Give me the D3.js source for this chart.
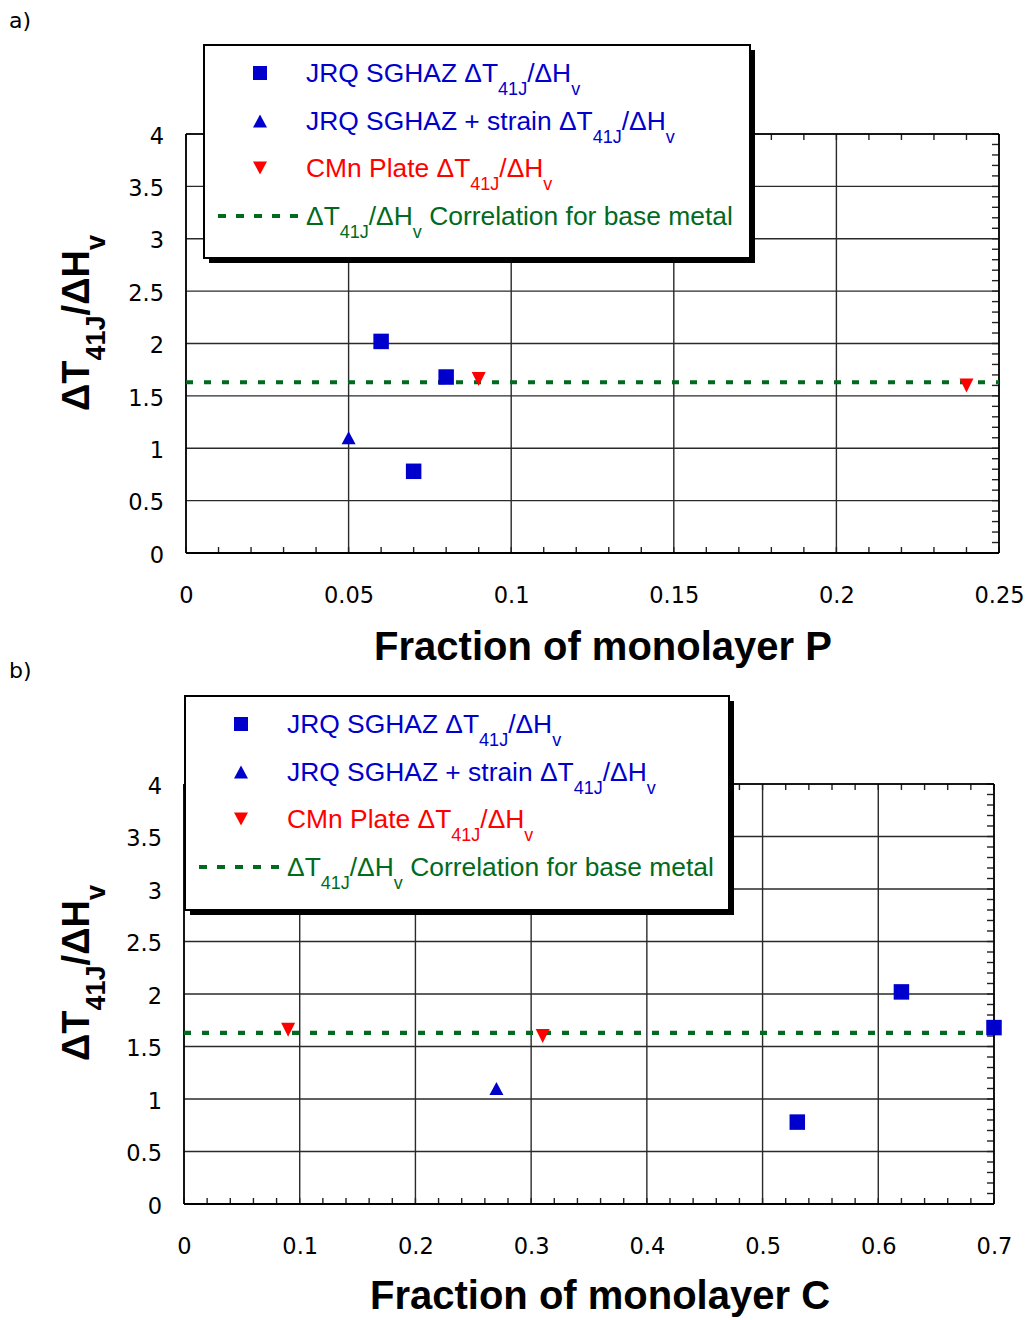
<!DOCTYPE html>
<html>
<head>
<meta charset="utf-8">
<script src="https://cdn.jsdelivr.net/npm/d3@7"></script>
<style>
  html, body { margin: 0; padding: 0; background: #fff; }
  svg { display: block; }
</style>
</head>
<body>
<svg id="fig" width="1028" height="1320"></svg>
<script>
// ΔT41J/ΔHv ratios for each material, plotted against P and C monolayer fractions
const sghazP = [0.06, 0.08, 0.07];
const sghazC = [0.62, 0.70, 0.53];
const sghazRatio = [2.02, 1.68, 0.78];

const strainP = [0.05];
const strainC = [0.27];
const strainRatio = [1.10];

const cmnP = [0.09, 0.24];
const cmnC = [0.09, 0.31];
const cmnRatio = [1.66, 1.60];

const baseMetalRatio = 1.63;

const yTicks = [0, 0.5, 1, 1.5, 2, 2.5, 3, 3.5, 4];
const xTicksP = [0, 0.05, 0.1, 0.15, 0.2, 0.25];
const xTicksC = [0, 0.1, 0.2, 0.3, 0.4, 0.5, 0.6, 0.7];

const BLUE = "#0000cc";
const RED = "#ff0000";
const GREEN = "#006a1e";
const TICK_FONT = "'DejaVu Sans', Verdana, sans-serif";
const TEXT_FONT = "'Liberation Sans', Arial, sans-serif";

const svg = d3.select("#fig");

function squarePath(s) {
  const h = s / 2;
  return `M${-h},${-h}H${h}V${h}H${-h}Z`;
}
function triUpPath(w, h) {
  return `M0,${-h / 2}L${w / 2},${h / 2}L${-w / 2},${h / 2}Z`;
}
function triDownPath(w, h) {
  return `M${-w / 2},${-h / 2}L${w / 2},${-h / 2}L0,${h / 2}Z`;
}

// text with ΔT41J/ΔHv subscripts, optional prefix and suffix
function ratioText(t, prefix, suffix, subSize, drop) {
  if (prefix) t.append("tspan").text(prefix);
  t.append("tspan").text("ΔT");
  t.append("tspan").attr("font-size", subSize).attr("dy", drop).text("41J");
  t.append("tspan").attr("dy", -drop).text("/ΔH");
  t.append("tspan").attr("font-size", subSize).attr("dy", drop).text("v");
  if (suffix) t.append("tspan").attr("dy", -drop).text(suffix);
  return t;
}

function drawPanel(cfg) {
  const g = svg.append("g");
  const x = d3.scaleLinear().domain(cfg.xDomain).range([cfg.left, cfg.right]);
  const y = d3.scaleLinear().domain([0, 4]).range([cfg.bottom, cfg.top]);

  // panel label
  g.append("text").attr("x", 9).attr("y", cfg.labelY)
    .attr("font-family", TICK_FONT).attr("font-size", 22).text(cfg.label);

  // horizontal grid
  g.append("g").selectAll("line").data(yTicks).join("line")
    .attr("x1", cfg.left).attr("x2", cfg.right)
    .attr("y1", d => y(d)).attr("y2", d => y(d))
    .attr("stroke", "#2a2a2a").attr("stroke-width", 1.4);

  // vertical grid
  g.append("g").selectAll("line").data(cfg.xTicks).join("line")
    .attr("x1", d => x(d)).attr("x2", d => x(d))
    .attr("y1", cfg.top).attr("y2", cfg.bottom)
    .attr("stroke", "#2a2a2a").attr("stroke-width", 1.4);

  // minor ticks: bottom (up) and top (down)
  const xMinor = d3.range(0, Math.round(cfg.xDomain[1] / cfg.xMinorStep) + 1)
    .map(i => i * cfg.xMinorStep);
  const minorG = g.append("g").attr("stroke", "#222").attr("stroke-width", 1.4);
  minorG.selectAll("line.b").data(xMinor).join("line").attr("class", "b")
    .attr("x1", d => x(d)).attr("x2", d => x(d))
    .attr("y1", cfg.bottom).attr("y2", cfg.bottom - 6);
  minorG.selectAll("line.t").data(xMinor).join("line").attr("class", "t")
    .attr("x1", d => x(d)).attr("x2", d => x(d))
    .attr("y1", cfg.top).attr("y2", cfg.top + 6);
  // right side minor ticks
  const yMinor = d3.range(0, 41).map(i => i * 0.1);
  minorG.selectAll("line.r").data(yMinor).join("line").attr("class", "r")
    .attr("x1", cfg.right).attr("x2", cfg.right - 7)
    .attr("y1", d => y(d)).attr("y2", d => y(d));

  // axis frame
  g.append("line").attr("x1", cfg.left).attr("x2", cfg.right)
    .attr("y1", cfg.bottom).attr("y2", cfg.bottom)
    .attr("stroke", "#000").attr("stroke-width", 2);
  g.append("line").attr("x1", cfg.left).attr("x2", cfg.left)
    .attr("y1", cfg.top).attr("y2", cfg.bottom)
    .attr("stroke", "#000").attr("stroke-width", 1.6);
  g.append("line").attr("x1", cfg.right).attr("x2", cfg.right)
    .attr("y1", cfg.top).attr("y2", cfg.bottom)
    .attr("stroke", "#000").attr("stroke-width", 1.6);
  g.append("line").attr("x1", cfg.left).attr("x2", cfg.right)
    .attr("y1", cfg.top).attr("y2", cfg.top)
    .attr("stroke", "#000").attr("stroke-width", 1.6);

  // tick labels via d3 axes
  const xAxis = d3.axisBottom(x).tickValues(cfg.xTicks).tickSize(0).tickPadding(0)
    .tickFormat(d3.format("~g"));
  const xa = g.append("g").attr("transform", `translate(0,${cfg.bottom + 34})`).call(xAxis);
  xa.select(".domain").remove();
  xa.selectAll("text").attr("font-family", TICK_FONT).attr("font-size", 22.5).attr("fill", "#000");

  const yAxis = d3.axisLeft(y).tickValues(yTicks).tickSize(0).tickPadding(0)
    .tickFormat(d3.format("~g"));
  const ya = g.append("g").attr("transform", `translate(${cfg.left - 22},2)`).call(yAxis);
  ya.select(".domain").remove();
  ya.selectAll("text").attr("font-family", TICK_FONT).attr("font-size", 22.5).attr("fill", "#000");

  // axis titles
  g.append("text").attr("x", cfg.xTitleX).attr("y", cfg.xTitleY)
    .attr("text-anchor", "middle").attr("font-family", TEXT_FONT)
    .attr("font-weight", "bold").attr("font-size", 40).text(cfg.xTitle);

  const yt = g.append("text")
    .attr("transform", `translate(89,${cfg.yTitleY}) rotate(-90)`)
    .attr("text-anchor", "middle").attr("font-family", TEXT_FONT)
    .attr("font-weight", "bold").attr("font-size", 38);
  ratioText(yt, null, null, 27, 16);

  // base metal correlation
  g.append("line")
    .attr("x1", cfg.left).attr("x2", cfg.right)
    .attr("y1", y(baseMetalRatio)).attr("y2", y(baseMetalRatio))
    .attr("stroke", GREEN).attr("stroke-width", 4.2)
    .attr("stroke-dasharray", "7,11");

  // markers
  const pts = g.append("g");
  pts.selectAll("path.sq").data(d3.zip(cfg.sghazX, sghazRatio)).join("path").attr("class", "sq")
    .attr("d", squarePath(15.5)).attr("fill", BLUE)
    .attr("transform", d => `translate(${x(d[0])},${y(d[1])})`);
  pts.selectAll("path.tu").data(d3.zip(cfg.strainX, strainRatio)).join("path").attr("class", "tu")
    .attr("d", triUpPath(14, 13)).attr("fill", BLUE)
    .attr("transform", d => `translate(${x(d[0])},${y(d[1])})`);
  pts.selectAll("path.td").data(d3.zip(cfg.cmnX, cmnRatio)).join("path").attr("class", "td")
    .attr("d", triDownPath(14, 14)).attr("fill", RED)
    .attr("transform", d => `translate(${x(d[0])},${y(d[1])})`);

  // legend
  const L = cfg.legend;
  const lg = g.append("g");
  lg.append("rect").attr("x", L.x + 5).attr("y", L.y + 5).attr("width", L.w).attr("height", L.h)
    .attr("fill", "#000");
  lg.append("rect").attr("x", L.x).attr("y", L.y).attr("width", L.w).attr("height", L.h)
    .attr("fill", "#fff").attr("stroke", "#000").attr("stroke-width", 2);

  const rows = [28, 76, 123, 171].map(r => L.y + r);
  const sx = L.x + 56, tx = L.x + 102;
  lg.append("path").attr("d", squarePath(14)).attr("fill", BLUE)
    .attr("transform", `translate(${sx},${rows[0]})`);
  lg.append("path").attr("d", triUpPath(14, 13)).attr("fill", BLUE)
    .attr("transform", `translate(${sx},${rows[1]})`);
  lg.append("path").attr("d", triDownPath(14, 13)).attr("fill", RED)
    .attr("transform", `translate(${sx},${rows[2]})`);
  lg.append("line").attr("x1", L.x + 14).attr("x2", L.x + 98)
    .attr("y1", rows[3]).attr("y2", rows[3])
    .attr("stroke", GREEN).attr("stroke-width", 4.2).attr("stroke-dasharray", "8,10");

  const entries = [
    { pre: "JRQ SGHAZ ", suf: null, color: BLUE },
    { pre: "JRQ SGHAZ + strain ", suf: null, color: BLUE },
    { pre: "CMn Plate ", suf: null, color: RED },
    { pre: null, suf: " Correlation for base metal", color: GREEN }
  ];
  entries.forEach((e, i) => {
    const t = lg.append("text").attr("x", tx).attr("y", rows[i] + 9)
      .attr("font-family", TEXT_FONT).attr("font-size", 26.4).attr("fill", e.color);
    ratioText(t, e.pre, e.suf, 18, 13);
  });
}

drawPanel({
  label: "a)", labelY: 28,
  xDomain: [0, 0.25], xTicks: xTicksP, xMinorStep: 0.01,
  left: 186, right: 999, top: 134, bottom: 553,
  xTitle: "Fraction of monolayer P", xTitleX: 603, xTitleY: 660,
  yTitleY: 323,
  sghazX: sghazP, strainX: strainP, cmnX: cmnP,
  legend: { x: 204, y: 45, w: 546, h: 213 }
});

drawPanel({
  label: "b)", labelY: 678,
  xDomain: [0, 0.7], xTicks: xTicksC, xMinorStep: 0.02,
  left: 184, right: 994, top: 784, bottom: 1204,
  xTitle: "Fraction of monolayer C", xTitleX: 600, xTitleY: 1309,
  yTitleY: 973,
  sghazX: sghazC, strainX: strainC, cmnX: cmnC,
  legend: { x: 185, y: 696, w: 544, h: 214 }
});
</script>
</body>
</html>
